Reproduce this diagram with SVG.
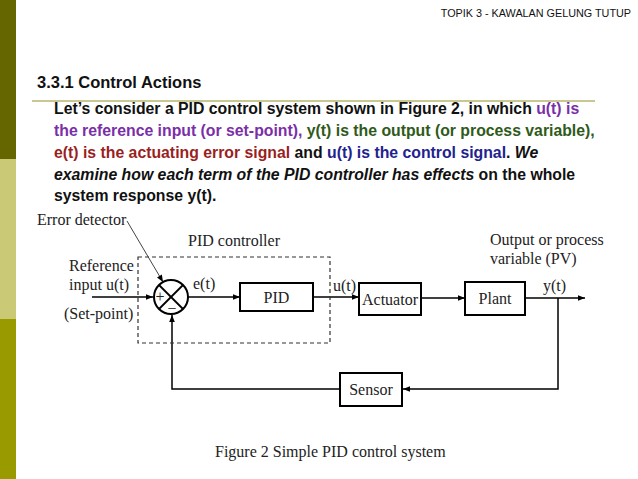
<svg xmlns="http://www.w3.org/2000/svg" width="638" height="479" viewBox="0 0 638 479">
<defs>
<marker id="ah" viewBox="0 0 10 10" refX="10" refY="5" markerWidth="9" markerHeight="7" markerUnits="userSpaceOnUse" orient="auto">
<path d="M0,1 L10,5 L0,9 z" fill="#000"/>
</marker>
<style>
.hd{font-family:"Liberation Sans",Arial,sans-serif}
.bd{font-family:"Liberation Sans",Arial,sans-serif;font-weight:bold;font-size:15.8px;fill:#111}
.tm{font-family:"Liberation Serif","Times New Roman",serif;font-size:16px;fill:#222}
.box{fill:#fff;stroke:#000;stroke-width:2}
.ln{fill:none;stroke:#000;stroke-width:1.5}
.pu{fill:#7a2fa8}.gr{fill:#2f5a1a}.rd{fill:#9a1f1f}.bl{fill:#22228f}
</style>
</defs>
<rect width="638" height="479" fill="#fff"/>
<rect x="0" y="0" width="16" height="159" fill="#666600"/>
<rect x="0" y="159" width="16" height="160" fill="#c9c976"/>
<rect x="0" y="319" width="16" height="160" fill="#999900"/>
<text class="hd" x="631" y="17" font-size="10.8" text-anchor="end" fill="#111">TOPIK 3 - KAWALAN GELUNG TUTUP</text>
<text class="hd" x="37" y="88" font-size="16.5" font-weight="bold" fill="#111">3.3.1 Control Actions</text>
<line x1="32" y1="101" x2="595" y2="101" stroke="#c8c890" stroke-width="2"/>
<text class="bd" x="54" y="114">Let’s consider a PID control system shown in Figure 2, in which <tspan class="pu">u(t) is</tspan></text>
<text class="bd" x="54" y="136"><tspan class="pu">the reference input (or set-point),</tspan> <tspan class="gr">y(t) is the output (or process variable),</tspan></text>
<text class="bd" x="54" y="158"><tspan class="rd">e(t) is the actuating error signal</tspan> and <tspan class="bl">u(t) is the control signal</tspan>. <tspan font-style="italic">We</tspan></text>
<text class="bd" x="54" y="180"><tspan font-style="italic">examine how each term of the PID controller has effects</tspan> on the whole</text>
<text class="bd" x="54" y="201">system response y(t).</text>
<g id="connectors">
<line class="ln" x1="92" y1="297" x2="153" y2="297" marker-end="url(#ah)"/>
<line class="ln" x1="188" y1="297" x2="240" y2="297" marker-end="url(#ah)"/>
<line class="ln" x1="313" y1="297" x2="359" y2="297" marker-end="url(#ah)"/>
<line class="ln" x1="421" y1="298" x2="465" y2="298" marker-end="url(#ah)"/>
<line class="ln" x1="525" y1="298" x2="585" y2="298" marker-end="url(#ah)"/>
<polyline class="ln" points="558,298 558,389 403,389" marker-end="url(#ah)"/>
<polyline class="ln" points="340,389 172,389 172,315" marker-end="url(#ah)"/>
<line x1="127" y1="221" x2="163" y2="282" stroke="#444" stroke-width="1" marker-end="url(#ah)"/>
</g>
<g id="pid-controller">
<rect x="138" y="257" width="192" height="86" fill="none" stroke="#333" stroke-width="1.2" stroke-dasharray="4,3"/>
<text class="tm" x="188" y="246">PID controller</text>
</g>
<g id="error-detector">
<circle cx="171" cy="297" r="17" fill="#fff" stroke="#000" stroke-width="2"/>
<line x1="159" y1="285" x2="183" y2="309" stroke="#000" stroke-width="1.8"/>
<line x1="183" y1="285" x2="159" y2="309" stroke="#000" stroke-width="1.8"/>
<text class="tm" x="160" y="302" font-size="11" text-anchor="middle">+</text>
<text class="tm" x="172" y="314" font-size="12" text-anchor="middle">−</text>
<text class="tm" x="37" y="225">Error detector</text>
</g>
<g id="pid">
<rect class="box" x="240" y="283" width="73" height="28"/>
<text class="tm" x="276.5" y="303" text-anchor="middle">PID</text>
</g>
<g id="actuator">
<rect class="box" x="359" y="283" width="62" height="32"/>
<text class="tm" x="390" y="305" text-anchor="middle">Actuator</text>
</g>
<g id="plant">
<rect class="box" x="465" y="282" width="60" height="33"/>
<text class="tm" x="495" y="304" text-anchor="middle">Plant</text>
</g>
<g id="sensor">
<rect class="box" x="340" y="373" width="62" height="33"/>
<text class="tm" x="371" y="395" text-anchor="middle">Sensor</text>
</g>
<g id="labels">
<text class="tm" x="69" y="271">Reference</text>
<text class="tm" x="69" y="290">input u(t)</text>
<text class="tm" x="64" y="319">(Set-point)</text>
<text class="tm" x="193" y="289">e(t)</text>
<text class="tm" x="333" y="291">u(t)</text>
<text class="tm" x="543" y="291">y(t)</text>
<text class="tm" x="490" y="245">Output or process</text>
<text class="tm" x="490" y="264">variable (PV)</text>
<text class="tm" x="215" y="457">Figure 2 Simple PID control system</text>
</g>
</svg>
